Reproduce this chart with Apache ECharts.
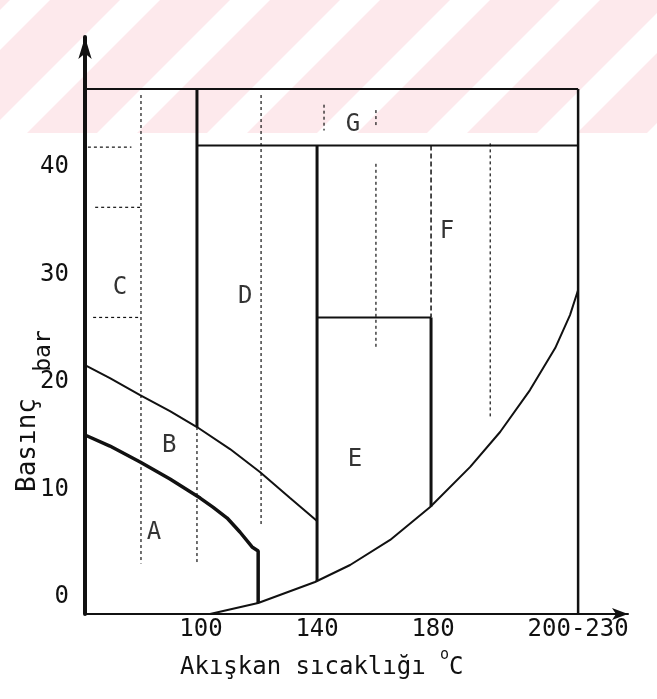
<!DOCTYPE html>
<html>
<head>
<meta charset="utf-8">
<script src="https://cdn.jsdelivr.net/npm/echarts@6/dist/echarts.min.js"></script>
<style>
  html, body { margin: 0; padding: 0; background: #fff; }
  #chart { width: 657px; height: 699px; }
</style>
</head>
<body>
<div id="chart"></div>
<script>
// axis ticks
const xTicks = [100, 140, 180, 230];
const xTickText = {230: '200-230'};
const yTicks = [0, 10, 20, 30, 40];

// boundary curves (temperature °C, pressure bar)
const curveA = [[60, 15.06], [68.6, 14.03], [79, 12.54], [89.3, 10.96], [99.7, 9.19], [104.1, 8.35],
  [109, 7.33], [113.4, 6.03], [117.6, 4.64], [119.7, 4.27], [119.7, -0.58]];
const curveB = [[60, 21.57], [68.6, 20.36], [79, 18.78], [89.3, 17.29], [98.6, 15.8], [110, 13.75],
  [120.3, 11.62], [130.7, 9.2], [140, 7.06]];
const satCurve = [[103.1, -1.6], [119.7, -0.58], [139.3, 1.38], [151.4, 2.96], [165.2, 5.29], [179, 8.36],
  [192.8, 12.09], [203.1, 15.34], [213.4, 19.24], [222.1, 23.15], [227.2, 26.22], [230, 28.55]];

// region borders
const boxTop = [[60, 47.25], [230, 47.25]];
const rightEdge = [[230, 47.25], [230, -1.6]];
const gLine = [[98.6, 42], [230, 42]];
const dLine = [[98.6, 47.25], [98.6, 15.8]];
const dLineLow = [[98.6, 15.8], [98.6, 3.1]];
const eLeft = [[140, 42], [140, 1.47]];
const eTop = [[140, 26], [179.3, 26]];
const eRight = [[179.3, 26], [179.3, 8.4]];
const eRightUp = [[179.3, 42], [179.3, 26]];

// thin dotted guide lines
const guides = [
  [[79.3, 46.7], [79.3, 3.1]],
  [[120.7, 46.7], [120.7, 6.5]],
  [[142.4, 45.8], [142.4, 43.4]],
  [[160.3, 45.3], [160.3, 43.8]],
  [[160.3, 40.3], [160.3, 23]],
  [[199.7, 42.2], [199.7, 16.6]],
  [[61, 41.85], [76, 41.85]],
  [[63.5, 36.25], [79, 36.25]],
  [[62.8, 26], [79.3, 26]]
];

// region letters
const regionLabels = [['A', 83.8, 5.94], ['B', 89, 14.1], ['C', 72.1, 28.8], ['D', 115.2, 27.9],
  ['E', 153.1, 12.73], ['F', 184.8, 33.95], ['G', 152.4, 43.9]];

const font = 'DejaVu Sans Mono';
const ink = '#111';

function seg(data, width, type) {
  return {
    type: 'line',
    data: data,
    symbol: 'none',
    silent: true,
    animation: false,
    lineStyle: {color: ink, width: width, type: type || 'solid'}
  };
}

const series = [
  seg(boxTop, 2),
  seg(rightEdge, 2.5),
  seg(gLine, 2),
  seg(dLine, 3),
  seg(dLineLow, 1.2, [3, 3]),
  seg(eLeft, 3),
  seg(eTop, 2),
  seg(eRight, 3),
  seg(eRightUp, 1.5, [5, 3]),
  seg(curveA, 3.5),
  seg(curveB, 2),
  seg(satCurve, 2)
];
guides.forEach(g => series.push(seg(g, 1.2, [3, 3])));

series.push({
  type: 'scatter',
  symbolSize: 0,
  silent: true,
  animation: false,
  data: regionLabels.map(r => ({name: r[0], value: [r[1], r[2]]})),
  label: {
    show: true,
    position: 'inside',
    formatter: p => p.name,
    fontFamily: font,
    fontSize: 24,
    color: '#000'
  }
});

// faint scanned watermark band at the top of the page
const watermark = [{
  type: 'rect', z: -10, silent: true,
  shape: {x: 0, y: 0, width: 657, height: 133},
  style: {fill: '#fde9ec'}
}];
for (let b = -13 - 110 * 2; b < 700; b += 110) {
  watermark.push({
    type: 'polygon', z: -9, silent: true,
    shape: {points: [[b, 133], [b + 40, 133], [b + 173, 0], [b + 133, 0]]},
    style: {fill: '#fff'}
  });
}

const chart = echarts.init(document.getElementById('chart'));
chart.setOption({
  backgroundColor: '#fff',
  animation: false,
  grid: {left: 85, right: 29, top: 37, bottom: 85, containLabel: false, outerBoundsMode: 'none'},
  xAxis: {
    type: 'value',
    min: 60,
    max: 247.2,
    splitLine: {show: false},
    axisTick: {show: false},
    axisLine: {
      show: true,
      onZero: false,
      lineStyle: {color: ink, width: 2},
      symbol: ['none', 'arrow'],
      symbolSize: [9, 16]
    },
    axisLabel: {
      customValues: xTicks,
      formatter: v => xTickText[v] || String(v),
      fontFamily: font,
      fontSize: 24,
      color: ink,
      margin: 4
    }
  },
  yAxis: {
    type: 'value',
    min: -1.6,
    max: 52.1,
    splitLine: {show: false},
    axisTick: {show: false},
    axisLine: {
      show: true,
      onZero: false,
      lineStyle: {color: ink, width: 4},
      symbol: ['none', 'arrow'],
      symbolSize: [10, 22]
    },
    axisLabel: {
      customValues: yTicks,
      fontFamily: font,
      fontSize: 24,
      color: ink,
      margin: 16
    }
  },
  graphic: watermark.concat([
    {
      type: 'text', x: 28, y: 445, rotation: Math.PI / 2,
      style: {text: 'Basınç', font: '26px "DejaVu Sans Mono"', fill: ink, align: 'center', verticalAlign: 'middle'}
    },
    {
      type: 'text', x: 44, y: 351, rotation: Math.PI / 2,
      style: {text: 'bar', font: '23px "DejaVu Sans Mono"', fill: ink, align: 'center', verticalAlign: 'middle'}
    },
    {
      type: 'text', left: 180, top: 648,
      style: {
        text: '{t|Akışkan sıcaklığı }{s|o}{t|C}',
        rich: {
          t: {fontFamily: font, fontSize: 24, fill: ink, lineHeight: 32, verticalAlign: 'bottom'},
          s: {fontFamily: font, fontSize: 15, fill: ink, lineHeight: 32, verticalAlign: 'top'}
        }
      }
    }
  ]),
  series: series
});
</script>
</body>
</html>
